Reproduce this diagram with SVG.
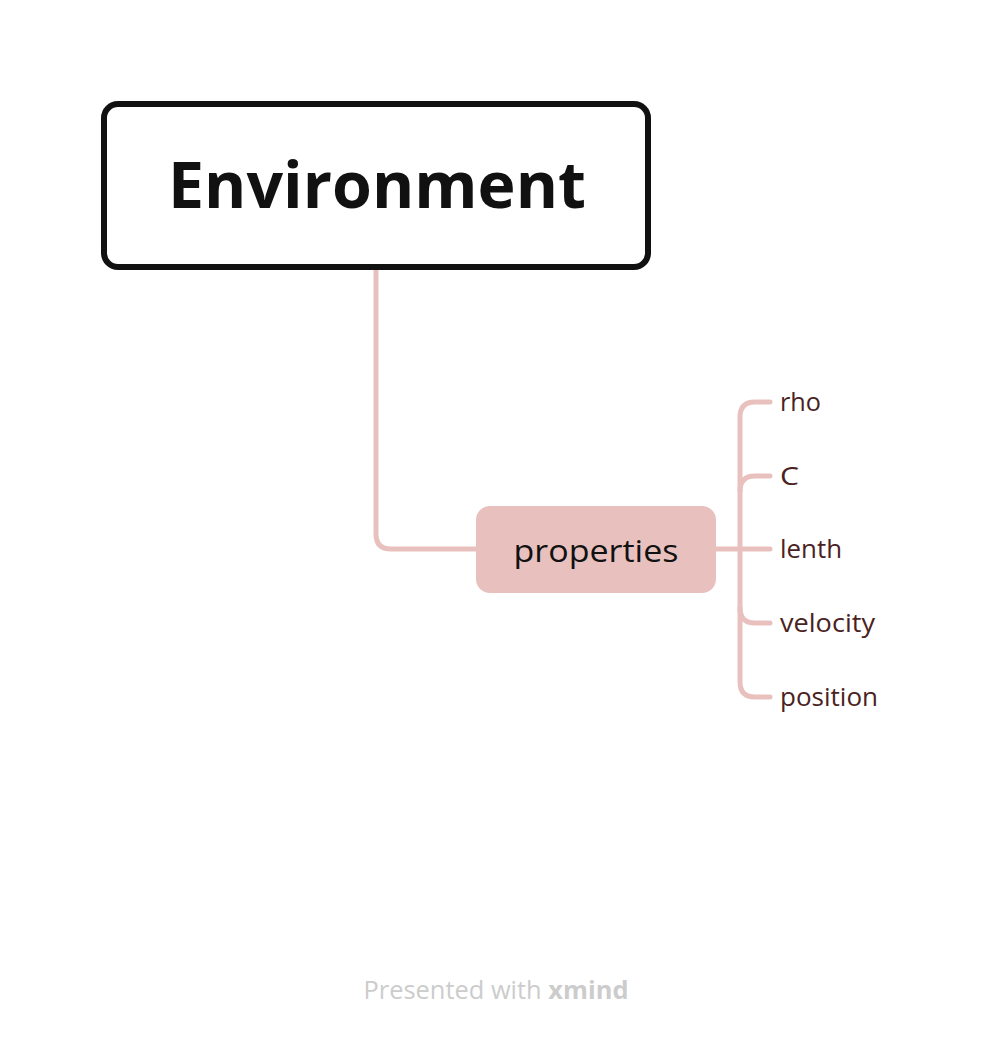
<svg xmlns="http://www.w3.org/2000/svg" width="992" height="1042" viewBox="0 0 992 1042">
<style>
.conn{fill:none;stroke:#e8c1bf;stroke-width:5;stroke-linecap:round}
.child{font-family:"Open Sans","Liberation Sans",sans-serif;font-size:25px;fill:#4a2222}
</style>
<rect width="992" height="1042" fill="#ffffff"/>
<g id="connectors">
<path class="conn" d="M376 268 V534 Q376 549 391 549 H478"/>
<path class="conn" d="M714 549 H770"/>
<path class="conn" d="M770 402 H755 Q740 402 740 417 V682 Q740 697 755 697 H770"/>
<path class="conn" d="M770 476 H755 Q740 476 740 491"/>
<path class="conn" d="M770 623 H755 Q740 623 740 608"/>
</g>
<g id="root">
<rect x="104" y="104" width="544" height="163" rx="14" fill="#ffffff" stroke="#111111" stroke-width="6"/>
<text x="377" y="208" text-anchor="middle" font-family="'Open Sans','Liberation Sans',sans-serif" font-weight="bold" font-size="65" fill="#111111" textLength="418" lengthAdjust="spacingAndGlyphs">Environment</text>
</g>
<g id="properties">
<rect x="476" y="506" width="240" height="87" rx="14" fill="#e8c1bf"/>
<text x="596" y="562" text-anchor="middle" font-family="'Open Sans','Liberation Sans',sans-serif" font-weight="500" font-size="31" fill="#111111" textLength="165" lengthAdjust="spacingAndGlyphs">properties</text>
</g>
<g id="rho"><text class="child" x="780" y="411" textLength="41" lengthAdjust="spacingAndGlyphs">rho</text></g>
<g id="C"><text class="child" x="780" y="485" textLength="19" lengthAdjust="spacingAndGlyphs">C</text></g>
<g id="lenth"><text class="child" x="780" y="558" textLength="62" lengthAdjust="spacingAndGlyphs">lenth</text></g>
<g id="velocity"><text class="child" x="780" y="632" textLength="95" lengthAdjust="spacingAndGlyphs">velocity</text></g>
<g id="position"><text class="child" x="780" y="706" textLength="98" lengthAdjust="spacingAndGlyphs">position</text></g>
<g id="footer">
<text x="496" y="999" text-anchor="middle" font-family="'Open Sans','Liberation Sans',sans-serif" font-size="25" fill="#cccccc" textLength="265" lengthAdjust="spacingAndGlyphs">Presented with <tspan font-weight="bold">xmind</tspan></text>
</g>
</svg>
